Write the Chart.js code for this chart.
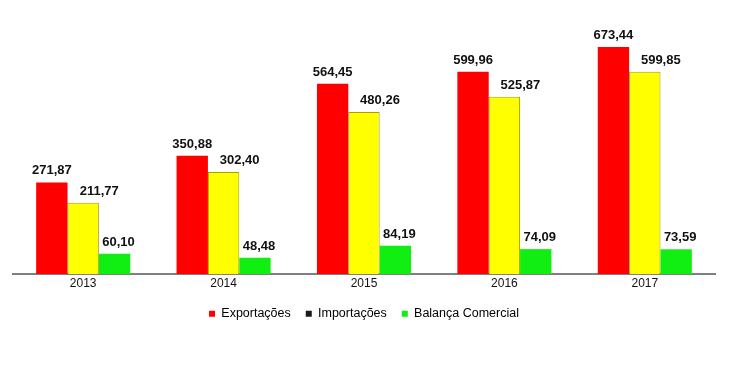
<!DOCTYPE html>
<html><head><meta charset="utf-8">
<script src="https://cdn.jsdelivr.net/npm/chart.js@4/dist/chart.umd.min.js"></script>
<style>html,body{margin:0;padding:0;background:#fff}#w{width:750px;height:370px}</style>
</head><body><div id="w"><canvas id="c"></canvas></div>
<script>
const categories = ['2013','2014','2015','2016','2017'];
const exportacoes = [271.87, 350.88, 564.45, 599.96, 673.44];
const importacoes = [211.77, 302.40, 480.26, 525.87, 599.85];
const balanca = [60.10, 48.48, 84.19, 74.09, 73.59];
const seriesNames = ['Exportações','Importações','Balança Comercial'];

const fmt = v => v.toFixed(2).replace('.', ',');
const labelOffsets = [0, 16, 4];

const labelPlugin = {
  id: 'vlabels',
  afterDatasetsDraw(chart) {
    const ctx = chart.ctx;
    ctx.save();
    ctx.font = 'bold 13px "Liberation Sans", Arial, sans-serif';
    ctx.fillStyle = '#111';
    ctx.textAlign = 'center';
    ctx.textBaseline = 'bottom';
    chart.data.datasets.forEach((ds, i) => {
      chart.getDatasetMeta(i).data.forEach((bar, j) => {
        ctx.fillText(fmt(ds.data[j]), bar.x + labelOffsets[i], bar.y - 5);
      });
    });
    ctx.restore();
  }
};

new Chart(document.getElementById('c'), {
  type: 'bar',
  data: {
    labels: categories,
    datasets: [
      {label: seriesNames[0], data: exportacoes, backgroundColor: '#ff0000', borderWidth: 0},
      {label: seriesNames[1], data: importacoes, backgroundColor: '#ffff00', borderColor: '#a8a000', borderWidth: 1, borderSkipped: 'bottom'},
      {label: seriesNames[2], data: balanca, backgroundColor: '#11ee11', borderWidth: 0}
    ]
  },
  options: {
    responsive: true,
    maintainAspectRatio: false,
    animation: false,
    layout: {padding: {left: 13, right: 35, top: 38, bottom: 40}},
    datasets: {bar: {barPercentage: 1, categoryPercentage: 0.67}},
    scales: {
      x: {
        grid: {display: false, drawTicks: false},
        border: {display: true, color: '#808080', width: 2},
        ticks: {color: '#111', padding: 2, font: {size: 12, family: '"Liberation Sans", Arial, sans-serif'}}
      },
      y: {display: false, min: 0, max: 700}
    },
    plugins: {
      tooltip: {enabled: false},
      legend: {
        position: 'bottom',
        labels: {
          boxWidth: 6, boxHeight: 6, padding: 15, color: '#111',
          font: {size: 12.5, family: '"Liberation Sans", Arial, sans-serif'},
          generateLabels(chart) {
            const cols = ['#ff0000', '#1a1a1a', '#11ee11'];
            return chart.data.datasets.map((ds, i) => ({
              text: ds.label, fillStyle: cols[i], strokeStyle: cols[i], lineWidth: 0, datasetIndex: i, hidden: false
            }));
          }
        }
      }
    }
  },
  plugins: [labelPlugin]
});
</script>
</body></html>
